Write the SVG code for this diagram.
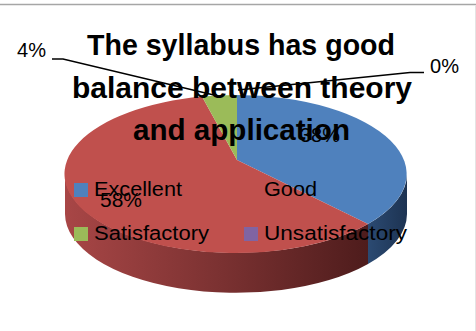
<svg xmlns="http://www.w3.org/2000/svg" width="476" height="331" viewBox="0 0 476 331">
  <defs>
    <linearGradient id="redSide" x1="65" y1="0" x2="368" y2="0" gradientUnits="userSpaceOnUse">
      <stop offset="0" stop-color="#a84646"/>
      <stop offset="0.5" stop-color="#7c3232"/>
      <stop offset="1" stop-color="#4e1c1c"/>
    </linearGradient>
    <linearGradient id="blueSide" x1="368" y1="0" x2="407" y2="0" gradientUnits="userSpaceOnUse">
      <stop offset="0" stop-color="#2b4a72"/>
      <stop offset="1" stop-color="#1d3352"/>
    </linearGradient>
  </defs>
  <style>
    .title { font-family: "Liberation Sans", Arial, sans-serif; font-weight: bold; font-size: 28.6px; fill: #000; }
    .lbl { font-family: "Liberation Sans", Arial, sans-serif; font-size: 20px; fill: #000; }
    .lead { fill: none; stroke: #000; stroke-width: 1.3; }
  </style>
  <rect x="0" y="0" width="476" height="331" fill="#ffffff"/>
  <line x1="0" y1="4.5" x2="476" y2="4.5" stroke="#a6a6a6" stroke-width="1.5"/>
  <line x1="475.5" y1="5" x2="475.5" y2="331" stroke="#e4e4e4" stroke-width="1"/>

  <g id="pie">
    <path d="M65,174 A171 79 0 0 0 368,224 L368,264 A171 79 0 0 1 65,214 Z" fill="url(#redSide)"/>
    <path d="M368,224 A171 79 0 0 0 407,174 L407,214 A171 79 0 0 1 368,264 Z" fill="url(#blueSide)"/>
    <g id="slice-excellent"><path d="M237,160 L237,95 A171 79 0 0 1 368,224 Z" fill="#4f81bd"/></g>
    <g id="slice-good"><path d="M237,160 L368,224 A171 79 0 1 1 202,96.6 Z" fill="#c0504d"/></g>
    <g id="slice-satisfactory"><path d="M237,160 L202,96.6 A171 79 0 0 1 237,95 Z" fill="#9bbb59"/></g>
  </g>

  <g id="data-labels">
    <text class="lbl" x="300" y="142" textLength="40" lengthAdjust="spacingAndGlyphs">38%</text>
    <text class="lbl" x="100" y="207" textLength="42" lengthAdjust="spacingAndGlyphs">58%</text>
    <text class="lbl" x="17" y="57" textLength="29" lengthAdjust="spacingAndGlyphs">4%</text>
    <text class="lbl" x="430" y="73" textLength="29" lengthAdjust="spacingAndGlyphs">0%</text>
  </g>

  <g id="legend">
    <g id="legend-excellent">
      <rect x="74" y="183" width="14" height="14" fill="#4f81bd"/>
      <text class="lbl" x="94" y="196" textLength="88" lengthAdjust="spacingAndGlyphs">Excellent</text>
    </g>
    <g id="legend-good">
      <rect x="244" y="183" width="14" height="14" fill="#c0504d"/>
      <text class="lbl" x="264" y="196" textLength="53" lengthAdjust="spacingAndGlyphs">Good</text>
    </g>
    <g id="legend-satisfactory">
      <rect x="74" y="227" width="14" height="14" fill="#9bbb59"/>
      <text class="lbl" x="94" y="240" textLength="115" lengthAdjust="spacingAndGlyphs">Satisfactory</text>
    </g>
    <g id="legend-unsatisfactory">
      <rect x="244" y="227" width="14" height="14" fill="#8064a2"/>
      <text class="lbl" x="264" y="240" textLength="143" lengthAdjust="spacingAndGlyphs">Unsatisfactory</text>
    </g>
  </g>

  <g id="title">
    <text class="title" x="87" y="55" textLength="308" lengthAdjust="spacingAndGlyphs">The syllabus has good</text>
    <text class="title" x="72" y="98" textLength="340" lengthAdjust="spacingAndGlyphs">balance between theory</text>
    <text class="title" x="133" y="140" textLength="217" lengthAdjust="spacingAndGlyphs">and application</text>
  </g>

  <g id="connectors">
    <polyline class="lead" points="52,59 63,59 218,96"/>
    <polyline class="lead" points="424,72.5 410,72.5 238,90"/>
  </g>
</svg>
